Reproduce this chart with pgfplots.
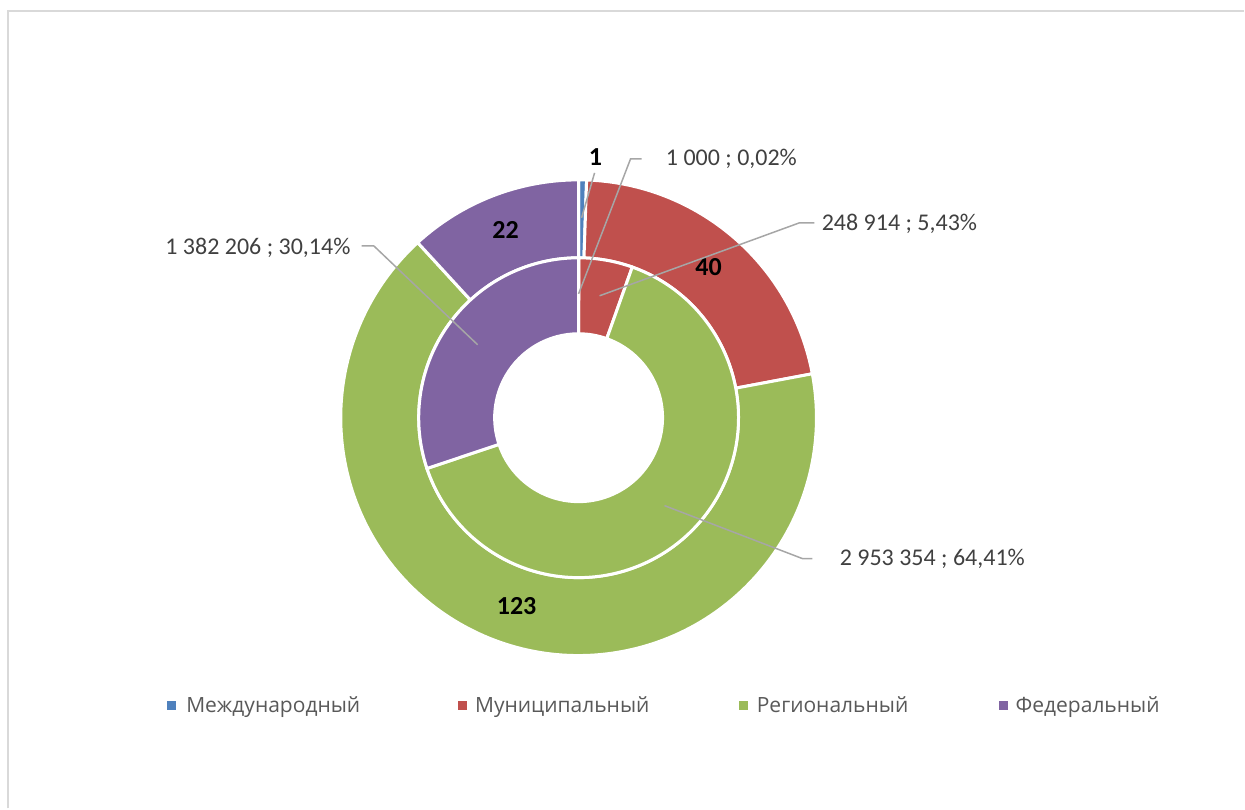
\documentclass[border=0pt]{standalone}
\usepackage{pgfplots}
\pgfplotsset{compat=1.18}
\usepackage{pgfplotstable}
\usepackage{fontspec}
\setmainfont{Carlito}
\newfontfamily\legfont{Open Sans}
\definecolor{c0}{HTML}{4F81BD}
\definecolor{c1}{HTML}{C0504D}
\definecolor{c2}{HTML}{9BBB59}
\definecolor{c3}{HTML}{8064A2}
\definecolor{lbl}{HTML}{404040}
\definecolor{legtxt}{HTML}{595959}
\definecolor{lead}{HTML}{A6A6A6}
\definecolor{frame}{HTML}{D9D9D9}

% outer ring: number of projects; inner ring: amounts
\pgfplotstableread{
cat outer inner
0 1 1000
1 40 248914
2 123 2953354
3 22 1382206
}\ringdata

\gdef\sumO{0}\gdef\sumI{0}
\foreach \i in {0,...,3}{%
  \pgfplotstablegetelem{\i}{outer}\of\ringdata
  \xdef\sumO{\fpeval{\sumO+\pgfplotsretval}}%
  \pgfplotstablegetelem{\i}{inner}\of\ringdata
  \xdef\sumI{\fpeval{\sumI+\pgfplotsretval}}%
}
\gdef\cumO{0}\gdef\cumI{0}
\foreach \i in {0,...,3}{%
  \pgfplotstablegetelem{\i}{outer}\of\ringdata
  \expandafter\xdef\csname oS\i\endcsname{\fpeval{90-\cumO*360/\sumO}}%
  \xdef\cumO{\fpeval{\cumO+\pgfplotsretval}}%
  \expandafter\xdef\csname oE\i\endcsname{\fpeval{90-\cumO*360/\sumO}}%
  \pgfplotstablegetelem{\i}{inner}\of\ringdata
  \expandafter\xdef\csname iS\i\endcsname{\fpeval{90-\cumI*360/\sumI}}%
  \xdef\cumI{\fpeval{\cumI+\pgfplotsretval}}%
  \expandafter\xdef\csname iE\i\endcsname{\fpeval{90-\cumI*360/\sumI}}%
}

\newcommand\ringpart[5]{%
  \fill[#5, draw=white, line width=1.5pt]
    ({579+#3*cos(#1)},{391+#3*sin(#1)}) arc[start angle=#1, end angle=#2, radius=#3]
    -- ({579+#4*cos(#2)},{391+#4*sin(#2)}) arc[start angle=#2, end angle=#1, radius=#4]
    -- cycle;}

\begin{document}
\begin{tikzpicture}
\begin{axis}[
  scale only axis, width=622.5pt, height=404.5pt,
  xmin=0, xmax=1245, ymin=0, ymax=809,
  hide axis, disabledatascaling, clip=false,
]
\path (0,0) rectangle (1245,809);
\draw[frame, line width=0.9pt] (8,0) -- (8,798) -- (1245,798);

\pgfplotsinvokeforeach{0,...,3}{%
  \ringpart{\csname oS#1\endcsname}{\csname oE#1\endcsname}{238}{160}{c#1}
  \ringpart{\csname iS#1\endcsname}{\csname iE#1\endcsname}{160}{84}{c#1}
}

% bold outer labels
\begin{scope}[font=\fontsize{13}{15}\selectfont\bfseries, text=black]
\node at (596,652) {1};
\node at (709,542) {40};
\node at (506,579) {22};
\node at (517,202) {123};
\end{scope}

% leader lines
\begin{scope}[draw=lead, line width=0.75pt]
\draw (582,591) -- (595,636);
\draw (579,515) -- (631,650) -- (642,650);
\draw (600,513) -- (800,586) -- (815,586);
\draw (665,303) -- (803,250) -- (813,250);
\draw (478,464) -- (374,563) -- (362,563);
\end{scope}

\begin{scope}[font=\fontsize{12}{14}\selectfont, text=lbl, inner sep=0pt]
\node[anchor=west] at (666,650) {1 000 ; 0,02\%};
\node[anchor=west] at (822,585) {248 914 ; 5,43\%};
\node[anchor=west] at (840,250) {2 953 354 ; 64,41\%};
\node[anchor=east] at (351,561) {1 382 206 ; 30,14\%};
\end{scope}

% legend
\begin{scope}[font=\legfont\fontsize{10.5}{13}\selectfont, text=legtxt]
\fill[c0] (167,98) rectangle (176,107);
\node[anchor=base west, inner sep=0pt] at (186,96) {Международный};
\fill[c1] (458,98) rectangle (467,107);
\node[anchor=base west, inner sep=0pt] at (475,96) {Муниципальный};
\fill[c2] (740,98) rectangle (749,107);
\node[anchor=base west, inner sep=0pt] at (757,96) {Региональный};
\fill[c3] (1000,98) rectangle (1009,107);
\node[anchor=base west, inner sep=0pt] at (1016,96) {Федеральный};
\end{scope}
\end{axis}
\end{tikzpicture}
\end{document}
